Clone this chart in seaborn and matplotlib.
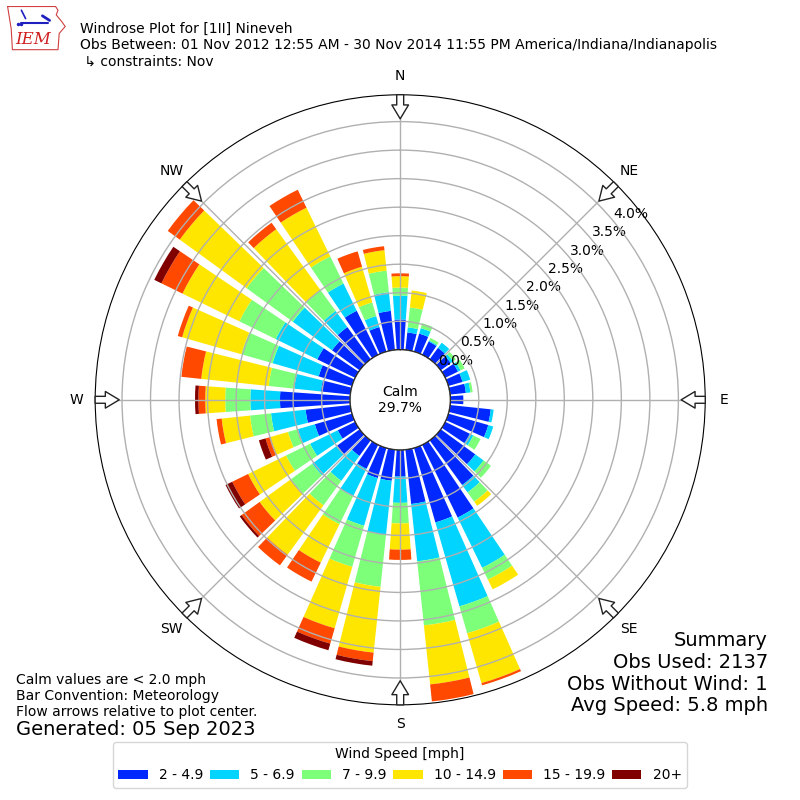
import numpy as np
import pandas as pd
import matplotlib
matplotlib.use("Agg")
import matplotlib.pyplot as plt
import seaborn as sns

# wind direction bins (deg, meteorological) and percent of obs per speed bin
directions = np.arange(0, 360, 10)
speed_bins = ["2 - 4.9", "5 - 6.9", "7 - 9.9", "10 - 14.9", "15 - 19.9", "20+"]
s2_5 = [0.53, 0.31, 0.33, 0.26, 0.25, 0.22, 0.25, 0.26, 0.28, 0.23, 0.72, 0.73,
        0.48, 0.75, 0.97, 1.42, 1.36, 0.96, 0.47, 0.55, 0.55, 0.47, 0.34, 0.49,
        0.34, 0.68, 0.79, 1.23, 0.52, 0.61, 0.74, 0.60, 0.70, 0.86, 0.45, 0.69]
s5_7 = [0.42, 0.09, 0.10, 0.02, 0.11, 0.05, 0.05, 0.14, 0.08, 0.00, 0.05, 0.09,
        0.07, 0.18, 0.16, 0.98, 1.53, 1.01, 0.46, 0.95, 0.87, 0.54, 0.54, 0.54,
        0.54, 0.31, 0.61, 0.52, 0.47, 0.84, 0.81, 0.85, 0.35, 0.53, 0.20, 0.33]
s7_10 = [0.14, 0.35, 0.09, 0.05, 0.00, 0.06, 0.08, 0.00, 0.04, 0.00, 0.00, 0.00,
         0.14, 0.16, 0.20, 0.23, 0.49, 1.13, 0.36, 0.92, 0.75, 0.54, 0.53, 0.46,
         0.47, 0.18, 0.37, 0.44, 0.45, 0.57, 0.71, 1.00, 0.45, 0.53, 0.25, 0.38]
s10_15 = [0.20, 0.30, 0.00, 0.00, 0.00, 0.00, 0.00, 0.00, 0.00, 0.00, 0.00, 0.00,
          0.00, 0.00, 0.09, 0.19, 0.91, 1.04, 0.46, 1.16, 1.12, 0.75, 1.07, 0.68,
          0.74, 0.32, 0.50, 0.35, 1.19, 1.08, 1.11, 1.45, 1.32, 0.95, 0.65, 0.36]
s15_20 = [0.05, 0.00, 0.00, 0.00, 0.00, 0.00, 0.00, 0.00, 0.00, 0.00, 0.00, 0.00,
          0.00, 0.00, 0.00, 0.00, 0.04, 0.30, 0.18, 0.15, 0.28, 0.37, 0.23, 0.39,
          0.31, 0.09, 0.09, 0.12, 0.35, 0.08, 0.41, 0.26, 0.14, 0.35, 0.28, 0.07]
s20p = [0.00, 0.00, 0.00, 0.00, 0.00, 0.00, 0.00, 0.00, 0.00, 0.00, 0.00, 0.00,
        0.00, 0.00, 0.00, 0.00, 0.00, 0.00, 0.00, 0.08, 0.12, 0.00, 0.00, 0.04,
        0.13, 0.12, 0.00, 0.06, 0.00, 0.00, 0.14, 0.00, 0.00, 0.00, 0.00, 0.00]
calm_pct = 29.7
ring_values = [0.0, 0.5, 1.0, 1.5, 2.0, 2.5, 3.0, 3.5, 4.0]
compass = ["N", "NE", "E", "SE", "S", "SW", "W", "NW"]

df = pd.DataFrame({"dir": directions, speed_bins[0]: s2_5, speed_bins[1]: s5_7,
                   speed_bins[2]: s7_10, speed_bins[3]: s10_15,
                   speed_bins[4]: s15_20, speed_bins[5]: s20p})

sns.set_style("white")
plt.rcParams['font.family'] = ['DejaVu Sans']
plt.rcParams.update({"text.color": "black", "xtick.color": "black",
                     "ytick.color": "black", "axes.labelcolor": "black"})
colors = sns.color_palette(["#0028ff", "#00d4ff", "#7dff7a", "#ffe600",
                            "#ff4800", "#800000"])

fig = plt.figure(figsize=(8, 8), dpi=100)
ax = fig.add_axes([0.119, 0.119, 0.7625, 0.7625], polar=True)
ax.set_theta_zero_location("N")
ax.set_theta_direction(-1)

theta = np.deg2rad(df["dir"].values)
width = np.deg2rad(8)
bottom = np.zeros(len(df))
for name, col in zip(speed_bins, colors):
    vals = df[name].values
    ax.bar(theta, vals, width=width, bottom=bottom, color=col,
           edgecolor="none", label=name, zorder=2)
    bottom += vals

ax.set_ylim(0, 4.47)
ax.set_rorigin(-0.877)

# calm circle
tt = np.linspace(0, 2 * np.pi, 200)
ax.plot(tt, np.zeros_like(tt), color="black", lw=1, zorder=4)
ax.text(0, -0.877, "Calm\n%.1f%%" % calm_pct, ha="center", va="center",
        fontsize=10, zorder=5)

ax.set_rgrids(ring_values, labels=["%.1f%%" % v for v in ring_values],
              angle=50, fontsize=10)
ax.set_thetagrids(np.arange(0, 360, 45), labels=compass, fontsize=10)
ax.tick_params(axis="x", pad=3)
ax.grid(True, color="#b0b0b0", lw=1, zorder=3)
ax.set_axisbelow(False)
ax.spines["polar"].set_color("black")

# direction arrows pointing to the center
for ang in np.arange(0, 360, 45):
    ax.annotate("", xy=(np.deg2rad(ang), 4.0), xytext=(np.deg2rad(ang), 4.52),
                arrowprops=dict(arrowstyle="simple,head_width=0.6,head_length=0.5,tail_width=0.25",
                                fc="white", ec="#222222", lw=1, mutation_scale=20),
                annotation_clip=False, zorder=6)

fig.text(0.1, 0.9725, "Windrose Plot for [1II] Nineveh\n"
         "Obs Between: 01 Nov 2012 12:55 AM - 30 Nov 2014 11:55 PM America/Indiana/Indianapolis\n"
         " \u21b3 constraints: Nov", fontsize=10, va="top", linespacing=1.2)

fig.text(0.96, 0.211, "Summary\nObs Used: 2137\nObs Without Wind: 1\nAvg Speed: 5.8 mph",
         fontsize=14, ha="right", va="top", linespacing=1.18)
fig.text(0.02, 0.159, "Calm values are < 2.0 mph\nBar Convention: Meteorology\n"
         "Flow arrows relative to plot center.", fontsize=10, va="top", linespacing=1.2)
fig.text(0.02, 0.088, "Generated: 05 Sep 2023", fontsize=14, va="center")

leg = fig.legend(*ax.get_legend_handles_labels(), loc="center",
                 bbox_to_anchor=(0.5, 0.044), ncol=6, title="Wind Speed [mph]",
                 fontsize=10, title_fontsize=10, handlelength=2.1,
                 columnspacing=0.5, frameon=True)

# small IEM logo
lax = fig.add_axes([0.008, 0.935, 0.075, 0.058])
ia_x = [0.02, 0.82, 0.86, 0.83, 0.92, 0.98, 0.88, 0.86, 0.1, 0.08, 0.02]
ia_y = [0.98, 0.98, 0.9, 0.8, 0.66, 0.55, 0.4, 0.05, 0.05, 0.5, 0.98]
lax.plot(ia_x, ia_y, color="#d04040", lw=0.8)
lax.plot([0.25, 0.7], [0.62, 0.62], color="#2020c0", lw=1.5)
lax.plot([0.25, 0.32], [0.9, 0.72], color="#2020c0", lw=1.2)
lax.plot([0.6, 0.72], [0.78, 0.68], color="#2020c0", lw=2)
lax.plot([0.2, 0.25], [0.6, 0.6], "o", color="#2020c0", ms=1.5)
lax.text(0.15, 0.28, "IEM", color="#d02020", fontsize=12, style="italic",
         family="DejaVu Serif", va="center")
lax.set_xlim(0, 1)
lax.set_ylim(0, 1)
lax.axis("off")

fig.savefig("out.png", dpi=100)
